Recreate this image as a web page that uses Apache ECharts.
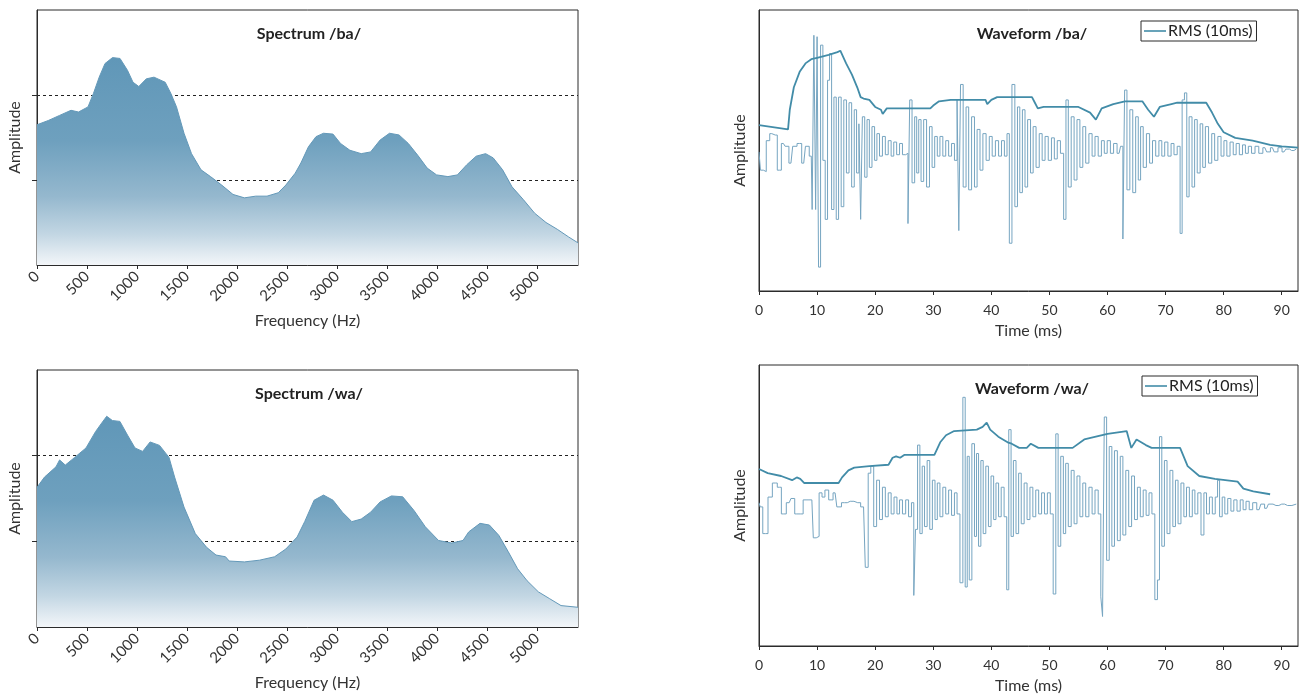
<!DOCTYPE html>
<html>
<head>
<meta charset="utf-8">
<title>Spectrum / waveform - ba, wa</title>
<script src="https://cdn.jsdelivr.net/npm/echarts@6/dist/echarts.min.js"></script>
<style>
  html, body { margin: 0; padding: 0; background: #fff; }
  #chart { width: 1304px; height: 700px; }
</style>
</head>
<body>
<div id="chart"></div>
<script>
// spectra: [frequency Hz, amplitude]
var spectrumBa = [[0,1.65],[113,1.70],[226,1.76],[340,1.82],[415,1.80],[510,1.86],[565,2.02],[622,2.21],[680,2.37],[755,2.44],[830,2.43],[905,2.29],[960,2.15],[1018,2.10],[1093,2.19],[1170,2.21],[1282,2.15],[1338,2.02],[1395,1.86],[1470,1.55],[1545,1.31],[1640,1.12],[1735,1.04],[1847,0.94],[1960,0.83],[2074,0.79],[2187,0.81],[2300,0.81],[2413,0.85],[2488,0.94],[2582,1.08],[2639,1.20],[2714,1.39],[2790,1.51],[2865,1.55],[2960,1.54],[3035,1.43],[3129,1.35],[3242,1.31],[3336,1.33],[3431,1.47],[3525,1.55],[3620,1.53],[3713,1.43],[3808,1.29],[3902,1.14],[3996,1.06],[4109,1.04],[4204,1.06],[4298,1.18],[4392,1.28],[4486,1.31],[4562,1.26],[4656,1.12],[4750,0.92],[4863,0.77],[4976,0.61],[5090,0.50],[5203,0.42],[5316,0.33],[5410,0.26]];
var spectrumWa = [[0,1.63],[75,1.75],[190,1.87],[226,1.95],[283,1.89],[377,1.98],[490,2.09],[585,2.28],[640,2.37],[697,2.46],[754,2.41],[829,2.40],[905,2.24],[980,2.09],[1056,2.05],[1131,2.16],[1225,2.12],[1320,1.98],[1376,1.75],[1470,1.40],[1583,1.09],[1696,0.93],[1790,0.84],[1885,0.82],[1922,0.77],[2074,0.76],[2225,0.78],[2376,0.82],[2488,0.91],[2601,1.05],[2677,1.23],[2771,1.48],[2865,1.54],[2960,1.48],[3054,1.34],[3148,1.23],[3242,1.26],[3336,1.34],[3431,1.46],[3544,1.53],[3657,1.52],[3770,1.36],[3883,1.17],[4015,1.01],[4147,0.98],[4260,1.01],[4317,1.11],[4430,1.21],[4524,1.19],[4618,1.07],[4712,0.88],[4806,0.68],[4901,0.54],[5014,0.41],[5127,0.33],[5240,0.25],[5410,0.23]];

// waveforms: [time ms, amplitude]
var waveBa = [[0,-0.01],[0.5,-0.14],[1.0,-0.15],[1.5,0.07],[2.2,0.12],[2.8,0.11],[3.5,-0.14],[4.2,0.05],[4.8,0.03],[5.5,-0.09],[6.1,0.03],[7.0,0.05],[7.7,-0.09],[8.3,0.03],[9.0,-0.04],[9.3,-0.42],[9.6,0.82],[9.9,-0.42],[10.1,0.81],[10.4,-0.83],[10.8,0.75],[11.2,-0.07],[11.6,-0.49],[12.0,0.50],[12.3,0.69],[12.7,-0.42],[13.1,0.38],[13.5,-0.49],[13.9,0.38],[14.4,-0.40],[14.8,0.36],[15.3,-0.16],[15.7,0.34],[16.2,-0.26],[16.6,0.29],[17.0,-0.16],[17.4,0.19],[17.6,-0.49],[18.0,0.24],[18.4,-0.19],[18.8,0.22],[19.2,-0.12],[19.7,0.17],[20.1,-0.07],[20.5,0.12],[21.0,-0.04],[21.5,0.10],[22.0,-0.03],[22.5,0.07],[23.0,-0.04],[23.4,0.06],[24.0,-0.03],[24.4,0.05],[25.0,-0.03],[25.5,-0.02],[25.8,-0.52],[26.1,0.36],[26.6,-0.23],[27.0,0.24],[27.3,-0.16],[27.7,0.22],[28.1,-0.22],[28.6,0.22],[29.1,-0.26],[29.6,0.17],[30.0,-0.12],[30.5,0.10],[30.9,-0.04],[31.4,0.10],[31.9,-0.04],[32.4,0.07],[32.9,-0.04],[33.4,0.05],[33.9,-0.07],[34.3,0.36],[34.5,-0.57],[34.9,0.47],[35.4,-0.26],[35.9,0.31],[36.3,-0.28],[36.9,0.24],[37.3,-0.26],[37.8,0.15],[38.3,-0.14],[38.8,0.12],[39.4,-0.07],[39.9,0.10],[40.4,-0.04],[41.0,0.07],[41.5,-0.04],[42.0,0.07],[42.5,-0.04],[42.9,0.12],[43.3,-0.66],[43.8,0.47],[44.3,-0.40],[44.7,0.31],[45.1,-0.30],[45.6,0.29],[46.0,-0.26],[46.5,0.22],[47.0,-0.16],[47.4,0.17],[48.0,-0.12],[48.5,0.12],[49.0,-0.07],[49.5,0.10],[50.1,-0.07],[50.6,0.09],[51.1,-0.06],[51.6,0.07],[52.2,-0.02],[52.7,-0.49],[53.0,0.36],[53.5,-0.26],[54.0,0.24],[54.5,-0.21],[55.0,0.22],[55.5,-0.12],[56.0,0.17],[56.5,-0.09],[57.1,0.12],[57.6,-0.04],[58.1,0.10],[58.7,-0.04],[59.2,0.07],[59.7,-0.02],[60.2,0.07],[60.8,-0.02],[61.3,0.05],[62.0,-0.02],[62.5,0.03],[62.8,-0.63],[63.1,0.43],[63.6,-0.28],[64.1,0.29],[64.6,-0.30],[65.1,0.24],[65.5,-0.21],[65.9,0.17],[66.4,-0.12],[67.0,0.12],[67.5,-0.09],[68.0,0.07],[68.6,-0.04],[69.1,0.07],[69.6,-0.04],[70.1,0.06],[70.7,-0.04],[71.2,0.05],[71.7,-0.03],[72.3,0.03],[72.7,-0.59],[73.0,0.36],[73.5,0.41],[73.8,-0.33],[74.3,0.24],[74.8,-0.26],[75.2,0.22],[75.7,-0.16],[76.2,0.19],[76.6,-0.12],[77.1,0.17],[77.7,-0.09],[78.2,0.12],[78.7,-0.07],[79.3,0.10],[79.8,-0.04],[80.3,0.07],[80.8,-0.04],[81.4,0.06],[81.9,-0.03],[82.4,0.05],[83.0,-0.03],[83.5,0.04],[84.0,-0.02],[84.5,0.03],[85.1,-0.02],[85.7,0.03],[86.4,-0.02],[87.1,0.02],[87.7,-0.01],[88.4,0.02],[89.0,-0.01],[89.7,0.02],[90.4,-0.01],[91.0,0.01],[91.7,0.00],[92.5,0.01]];
var rmsBa = [[0,0.18],[5,0.15],[5.3,0.29],[6,0.45],[7,0.56],[8,0.62],[9,0.65],[10,0.66],[12,0.68],[13.5,0.70],[14,0.71],[15,0.62],[16,0.54],[17,0.44],[17.5,0.38],[18,0.37],[19,0.36],[20,0.31],[21,0.29],[21.3,0.26],[22,0.30],[29.5,0.30],[30,0.32],[31,0.35],[33,0.36],[39,0.36],[39.3,0.33],[40,0.36],[41,0.38],[47,0.38],[47.5,0.34],[48,0.30],[49,0.31],[55,0.31],[57,0.27],[58,0.22],[59,0.30],[61,0.33],[63,0.35],[66,0.35],[67,0.29],[68,0.24],[69,0.31],[71,0.33],[72,0.34],[77,0.34],[78,0.27],[79,0.19],[80,0.13],[82,0.09],[85,0.07],[88,0.04],[90,0.03],[92.8,0.02]];

var waveWa = [[0,0.02],[0.4,-0.01],[0.9,-0.20],[1.3,-0.20],[1.8,0.06],[2.8,0.16],[3.5,0.13],[4.2,-0.06],[5.2,0.02],[5.8,0.05],[6.5,-0.06],[7.1,-0.06],[8.1,0.04],[9.1,0.04],[9.6,-0.23],[10.1,-0.22],[10.6,0.09],[11.1,0.06],[11.6,0.11],[12.4,0.04],[13.1,0.09],[13.7,-0.01],[14.7,0.02],[15.7,0.03],[17.0,0.02],[18.0,-0.01],[18.6,-0.44],[19.0,0.23],[19.5,0.28],[20.0,-0.15],[20.5,0.18],[21.0,-0.10],[21.5,0.13],[22.0,-0.08],[22.5,0.09],[23.0,-0.06],[23.5,0.06],[24.0,-0.06],[24.4,0.04],[25.0,-0.06],[25.5,0.04],[26.0,-0.08],[26.5,0.02],[26.8,-0.64],[27.1,-0.17],[27.5,0.43],[27.9,-0.20],[28.3,0.28],[28.7,-0.15],[29.2,0.32],[29.6,-0.17],[30.1,0.18],[30.5,-0.10],[30.9,0.16],[31.4,-0.08],[31.9,0.13],[32.4,-0.06],[32.9,0.11],[33.4,-0.07],[33.9,0.09],[34.3,-0.06],[34.9,-0.55],[35.3,0.77],[35.7,-0.58],[36.0,0.35],[36.4,-0.53],[36.9,0.44],[37.3,-0.22],[37.6,0.37],[38.0,-0.29],[38.4,0.32],[38.8,-0.20],[39.3,0.28],[39.7,-0.15],[40.2,0.21],[40.6,-0.10],[41.0,0.16],[41.5,-0.08],[41.9,0.13],[42.5,-0.08],[42.8,-0.60],[43.2,0.54],[43.6,-0.22],[44.0,0.32],[44.5,-0.20],[44.9,0.23],[45.4,-0.13],[45.9,0.16],[46.4,-0.10],[46.9,0.13],[47.4,-0.08],[47.9,0.11],[48.4,-0.06],[48.9,0.09],[49.4,-0.06],[49.9,0.09],[50.4,-0.06],[50.9,-0.63],[51.3,0.51],[51.7,-0.29],[52.2,0.35],[52.6,-0.20],[53.0,0.30],[53.5,-0.15],[54.0,0.25],[54.5,-0.13],[55.0,0.21],[55.5,-0.08],[56.0,0.16],[56.5,-0.08],[57.1,0.13],[57.6,-0.06],[58.1,0.11],[58.7,-0.06],[59.0,-0.65],[59.3,-0.79],[59.6,0.63],[60.1,-0.39],[60.5,0.42],[61.0,-0.29],[61.4,0.39],[62.0,-0.25],[62.4,0.35],[62.9,-0.21],[63.4,0.25],[63.9,-0.15],[64.4,0.21],[64.9,-0.10],[65.4,0.13],[65.9,-0.08],[66.4,0.11],[66.9,-0.07],[67.4,0.09],[67.9,-0.06],[68.4,-0.67],[68.8,-0.53],[69.1,0.49],[69.6,-0.29],[70.0,0.32],[70.5,-0.20],[71.0,0.25],[71.5,-0.15],[71.9,0.18],[72.4,-0.13],[72.9,0.16],[73.4,-0.08],[73.8,0.13],[74.4,-0.08],[74.8,0.11],[75.3,-0.06],[75.8,0.09],[76.4,-0.21],[76.8,0.09],[77.3,-0.06],[77.8,0.06],[78.3,-0.06],[78.8,0.06],[79.1,0.18],[79.5,-0.08],[80.0,0.06],[80.4,-0.06],[81.0,0.05],[81.5,-0.04],[82.0,0.04],[82.6,-0.04],[83.1,0.04],[83.6,-0.03],[84.1,0.03],[84.7,-0.03],[85.3,0.02],[86.1,-0.03],[86.7,0.01],[87.4,-0.02],[88.0,0.01],[89.0,0.00],[90.0,0.01],[91.0,0.00],[92.5,0.01]];
var rmsWa = [[0,0.26],[1.5,0.23],[3.8,0.21],[5.7,0.18],[6.5,0.20],[7.1,0.19],[7.8,0.16],[13.7,0.16],[14.3,0.20],[15.4,0.25],[16.4,0.27],[19,0.28],[22.3,0.29],[23,0.34],[23.6,0.35],[24.3,0.34],[25,0.36],[27,0.36],[30.2,0.36],[31.2,0.45],[32.2,0.50],[33.6,0.53],[37.5,0.54],[38.5,0.56],[39.2,0.59],[39.8,0.54],[41.2,0.49],[42.8,0.45],[43.5,0.44],[44.8,0.41],[46.1,0.41],[46.8,0.44],[48.1,0.41],[49.4,0.41],[54,0.41],[56,0.47],[58,0.49],[60,0.51],[63.3,0.53],[64.1,0.41],[65,0.47],[66.6,0.43],[67.6,0.41],[72.5,0.41],[73.8,0.28],[75.8,0.21],[78.5,0.19],[82.4,0.17],[83.4,0.12],[85.1,0.10],[88,0.08]];

var freqTicks = [0, 500, 1000, 1500, 2000, 2500, 3000, 3500, 4000, 4500, 5000];
var timeTicks = [0, 10, 20, 30, 40, 50, 60, 70, 80, 90];
var ampTicks = [1, 2];

var FONT = 'Lato, "Open Sans", sans-serif';
var INK = '#2b2b2b';
var FILL_TOP = '#6499b9';
var WAVE_COLOR = '#76a5c1';
var RMS_COLOR = '#428ca8';

var chart = echarts.init(document.getElementById('chart'));

function plain(v) { return String(v); }

var nameStyle = { color: '#333', fontSize: 16, fontFamily: FONT };

function specX(idx) {
  return {
    gridIndex: idx, type: 'value', min: 0, max: 5410,
    axisLine: { show: true, onZero: false, lineStyle: { color: INK } },
    axisTick: { show: true, customValues: freqTicks, length: 4, lineStyle: { color: INK } },
    axisLabel: { customValues: freqTicks, formatter: plain, rotate: 45, margin: 9, color: '#333', fontSize: 15, fontFamily: FONT },
    splitLine: { show: false },
    name: 'Frequency (Hz)', nameLocation: 'middle', nameGap: 48, nameTextStyle: nameStyle
  };
}
function specY(idx) {
  // ticks only at 1 and 2, split lines at the same places
  return {
    gridIndex: idx, type: 'value', min: 0, max: 3, interval: 1,
    axisLine: { show: true, lineStyle: { color: INK } },
    axisTick: { show: true, customValues: ampTicks, length: 5, lineStyle: { color: INK } },
    axisLabel: { show: false },
    splitLine: { show: true, lineStyle: { color: '#222', type: [3, 3], width: 1 } },
    name: 'Amplitude', nameLocation: 'middle', nameGap: 14, nameTextStyle: nameStyle
  };
}
function waveX(idx) {
  return {
    gridIndex: idx, type: 'value', min: 0, max: 92.8,
    axisLine: { show: true, onZero: false, lineStyle: { color: INK } },
    axisTick: { show: true, customValues: timeTicks, length: 4, lineStyle: { color: INK } },
    axisLabel: { customValues: timeTicks, formatter: plain, margin: 12, color: '#333', fontSize: 14, fontFamily: FONT },
    splitLine: { show: false },
    name: 'Time (ms)', nameLocation: 'middle', nameGap: 32, nameTextStyle: nameStyle
  };
}
function waveY(idx) {
  return {
    gridIndex: idx, type: 'value', min: -1, max: 1,
    axisLine: { show: true, onZero: false, lineStyle: { color: INK } },
    axisTick: { show: false }, axisLabel: { show: false }, splitLine: { show: false },
    name: 'Amplitude', nameLocation: 'middle', nameGap: 11, nameTextStyle: nameStyle
  };
}

function specFill() {
  return new echarts.graphic.LinearGradient(0, 0, 0, 1, [
    { offset: 0, color: '#6097b8' },
    { offset: 0.4, color: '#6ea0be' },
    { offset: 0.67, color: '#95b8ce' },
    { offset: 0.85, color: '#c2d6e3' },
    { offset: 1, color: '#f3f6f9' }
  ]);
}

function legendAt(left, top) {
  return {
    left: left, top: top,
    data: [{ name: 'RMS (10ms)', icon: 'path://M0,0 H22 V1.6 H0 Z' }],
    borderColor: INK, borderWidth: 1, borderRadius: 0, padding: [2, 4, 2, 3],
    itemWidth: 22, itemHeight: 2, itemGap: 4,
    textStyle: { color: '#222', fontSize: 16, fontFamily: FONT, padding: [0, 0, 0, -3] }
  };
}

var titleStyle = { color: '#222', fontSize: 16, fontWeight: 'bold', fontFamily: FONT };

chart.setOption({
  animation: false,
  backgroundColor: '#fff',
  title: [
    { text: 'Spectrum /ba/', left: 304, top: 21, textAlign: 'center', textStyle: titleStyle },
    { text: 'Spectrum /wa/', left: 304, top: 381, textAlign: 'center', textStyle: titleStyle },
    { text: 'Waveform /ba/', left: 1027, top: 21, textAlign: 'center', textStyle: titleStyle },
    { text: 'Waveform /wa/', left: 1027, top: 376, textAlign: 'center', textStyle: titleStyle }
  ],
  legend: [legendAt(1141, 21), legendAt(1142, 376)],
  grid: [
    { left: 37, top: 10, width: 541, height: 255, show: true, borderColor: INK, borderWidth: 1 },
    { left: 37, top: 370, width: 541, height: 257, show: true, borderColor: INK, borderWidth: 1 },
    { left: 759, top: 10, width: 539, height: 281, show: true, borderColor: INK, borderWidth: 1 },
    { left: 759, top: 365, width: 539, height: 281, show: true, borderColor: INK, borderWidth: 1 }
  ],
  xAxis: [specX(0), specX(1), waveX(2), waveX(3)],
  yAxis: [specY(0), specY(1), waveY(2), waveY(3)],
  series: [
    {
      type: 'line', xAxisIndex: 0, yAxisIndex: 0, data: spectrumBa,
      symbol: 'none', lineStyle: { color: FILL_TOP, width: 1 },
      areaStyle: { color: specFill(), opacity: 1 }
    },
    {
      type: 'line', xAxisIndex: 1, yAxisIndex: 1, data: spectrumWa,
      symbol: 'none', lineStyle: { color: FILL_TOP, width: 1 },
      areaStyle: { color: specFill(), opacity: 1 }
    },
    {
      type: 'line', xAxisIndex: 2, yAxisIndex: 2, data: waveBa, step: 'middle',
      symbol: 'none', lineStyle: { color: WAVE_COLOR, width: 1 }
    },
    {
      name: 'RMS (10ms)', type: 'line', xAxisIndex: 2, yAxisIndex: 2, data: rmsBa,
      symbol: 'none', color: RMS_COLOR, lineStyle: { color: RMS_COLOR, width: 1.8 }
    },
    {
      type: 'line', xAxisIndex: 3, yAxisIndex: 3, data: waveWa, step: 'middle',
      symbol: 'none', lineStyle: { color: WAVE_COLOR, width: 1 }
    },
    {
      name: 'RMS (10ms)', type: 'line', xAxisIndex: 3, yAxisIndex: 3, data: rmsWa,
      symbol: 'none', color: RMS_COLOR, lineStyle: { color: RMS_COLOR, width: 1.8 }
    }
  ]
});
</script>
</body>
</html>
